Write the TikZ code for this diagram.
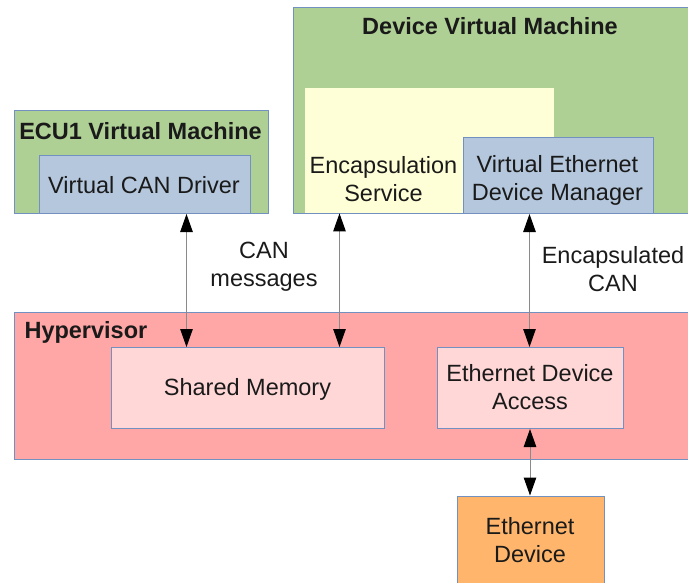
\documentclass[tikz,border=0pt]{standalone}
\usepackage{fontspec}
\setmainfont{Liberation Sans}
\usetikzlibrary{arrows.meta}
\definecolor{vmgreen}{HTML}{AFD095}
\definecolor{drvblue}{HTML}{B4C7DC}
\definecolor{encyellow}{HTML}{FFFFD7}
\definecolor{hvred}{HTML}{FFA6A6}
\definecolor{memPink}{HTML}{FFD7D7}
\definecolor{devorange}{HTML}{FFB66C}
\definecolor{edge}{HTML}{7290C0}
\definecolor{ink}{HTML}{1A1A1A}
\definecolor{wire}{HTML}{8A8A8A}
\tikzset{
  box/.style={draw=edge, line width=1pt, inner sep=0pt, anchor=north west},
  vmbox/.style={box, fill=vmgreen},
  drvbox/.style={box, fill=drvblue},
  hvbox/.style={box, fill=hvred},
  membox/.style={box, fill=memPink},
  devbox/.style={box, fill=devorange},
  encbox/.style={inner sep=0pt, anchor=north west, fill=encyellow},
  txt/.style={text=ink, align=center, font=\fontsize{23.5}{28}\selectfont},
  title/.style={text=ink, font=\fontsize{23.5}{28}\selectfont\bfseries},
  tip/.tip={Triangle[length=18pt,width=12.5pt,fill=black,color=black]},
  link/.style={draw=wire, line width=1pt, tip-tip},
}
\begin{document}
\begin{tikzpicture}[x=1pt,y=-1pt]
\useasboundingbox (0,0) rectangle (688,583);

% ECU1 virtual machine
\node[vmbox, minimum width=253.5pt, minimum height=103pt] (ecu) at (14,110) {};
\node[title] (ecutitle) at (140.5,131) {ECU1 Virtual Machine};
\node[drvbox, minimum width=211.5pt, minimum height=58pt] (drv) at (38.5,155) {};
\node[txt] (drvtext) at (144,185) {Virtual CAN Driver};

% Device virtual machine
\node[vmbox, minimum width=395pt, minimum height=206pt] (dvm) at (292.5,7) {};
\node[title] (dvmtitle) at (490,26) {Device Virtual Machine};
\node[encbox, minimum width=249pt, minimum height=125pt] (enc) at (305,88) {};
\node[txt] (enctext) at (383.5,179.5) {Encapsulation\\Service};
\node[drvbox, minimum width=190pt, minimum height=76pt] (vedm) at (462.5,137) {};
\node[txt] (vedmtext) at (557.5,180) {Virtual Ethernet\\Device Manager};

% Hypervisor
\node[hvbox, minimum width=674pt, minimum height=147pt] (hv) at (13.5,312) {};
\node[title, anchor=west] (hvtitle) at (21,332) {Hypervisor};
\node[membox, minimum width=273pt, minimum height=81pt] (shm) at (111,347) {};
\node[txt] (shmtext) at (247.5,389) {Shared Memory};
\node[membox, minimum width=186pt, minimum height=81pt] (eda) at (436.5,347) {};
\node[txt] (edatext) at (530,387.5) {Ethernet Device\\Access};

% Physical device
\node[devbox, minimum width=147.5pt, minimum height=100pt] (dev) at (456.5,495.5) {};
\node[txt] (devtext) at (530,540) {Ethernet\\Device};

% Connectors
\draw[link] (drv.south -| 186.5,0) -- (shm.north -| 186.5,0);
\draw[link] (enc.south -| 339.5,0) -- (shm.north -| 339.5,0);
\draw[link] (vedm.south -| 529.5,0) -- (eda.north -| 529.5,0);
\draw[link] (eda.south -| 530,0) -- (dev.north -| 530,0);

% Connector labels
\node[txt] (canlbl) at (264,267) {CAN\\messages};
\node[txt] (enclbl) at (613,269) {Encapsulated\\CAN};
\end{tikzpicture}
\end{document}
